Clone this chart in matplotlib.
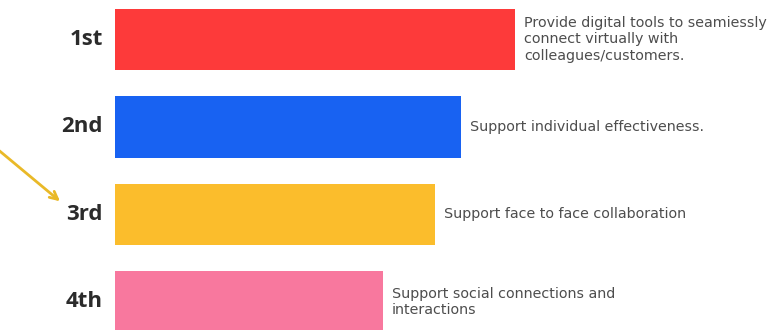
import matplotlib.pyplot as plt

ranks = ["1st", "2nd", "3rd", "4th"]
scores = [100, 86.5, 80, 67]
colors = ["#fd3a3a", "#1862f2", "#fbbd2c", "#f8789e"]
descriptions = [
    "Provide digital tools to seamiessly\nconnect virtually with\ncolleagues/customers.",
    "Support individual effectiveness.",
    "Support face to face collaboration",
    "Support social connections and\ninteractions",
]

fig = plt.figure(figsize=(7.83, 3.30), dpi=100)
ax = fig.add_axes([0, 0, 1, 1])

pos = list(range(len(ranks)))
ax.barh(pos, scores, height=0.70, color=colors)

# rank labels on the left, descriptions just past each bar end
for y, rank, val, desc in zip(pos, ranks, scores, descriptions):
    ax.text(-3, y, rank, ha="right", va="center", fontsize=16,
            fontweight="bold", color="#2b2b2b", family="Open Sans")
    ax.text(val + 2.2, y, desc, ha="left", va="center", fontsize=10.3,
            color="#4d4d4d", family="DejaVu Sans", linespacing=1.22)

# pointer toward the third item
ax.annotate("", xy=(-13.2, 1.87), xytext=(-29.5, 1.25),
            arrowprops=dict(arrowstyle="->", color="#e9b928", lw=2,
                            mutation_scale=14))

ax.set_xlim(-28.75, 167)
ax.set_ylim(3.32, -0.45)
ax.axis("off")

fig.savefig("out.png", dpi=100, facecolor="white")
